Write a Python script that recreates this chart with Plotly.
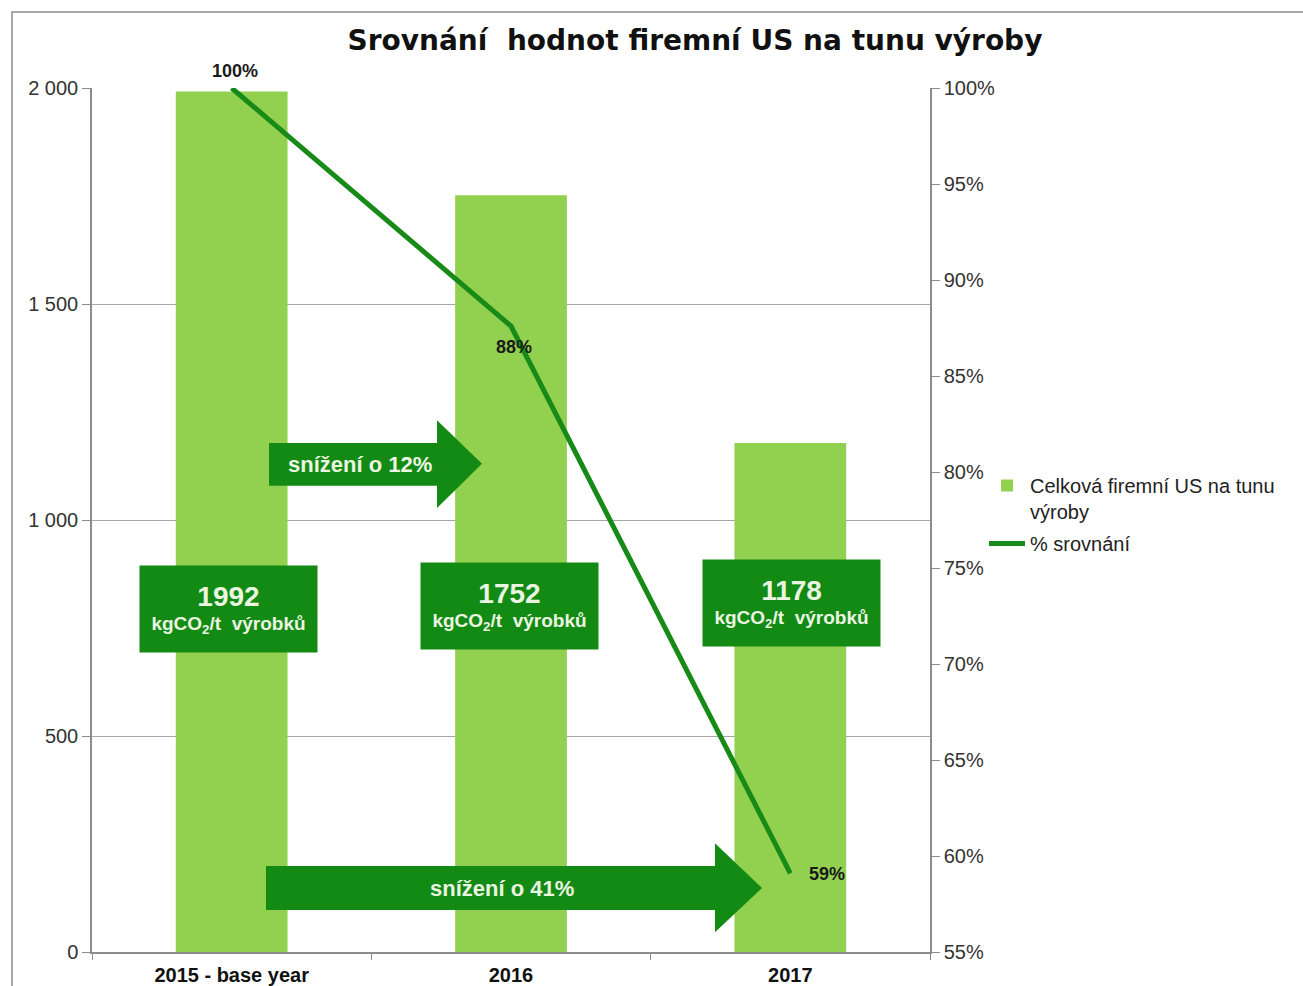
import plotly.graph_objects as go

categories = ["2015 - base year", "2016", "2017"]
intensity = [1992, 1752, 1178]          # kgCO2/t
percent = [1.00, 0.876, 0.591]          # % srovnání
bar_name = "Celková firemní US na tunu<br>výroby"
line_name = "% srovnání"
title_text = "Srovnání\u00a0 hodnot firemní US na tunu výroby"
unit_text = "kgCO<sub>2</sub>/t\u00a0 výrobků"
arrow_labels = ["snížení o 12%", "snížení o 41%"]
left_ticks = [0, 500, 1000, 1500, 2000]
left_tick_text = ["0", "500", "1 000", "1 500", "2 000"]

xpos = list(range(len(categories)))

FONT = "Liberation Sans, Arial, sans-serif"
TITLE_FONT = "DejaVu Sans, Liberation Sans, sans-serif"
BAR = "#92D050"
DARK = "#138a13"
LINE = "#178a17"
LIGHT_TXT = "#eaf5e2"
AXIS = "#8c8c8c"

fig = go.Figure()
fig.add_trace(go.Bar(
    x=xpos, y=intensity, name=bar_name, legendgroup="bars",
    marker=dict(color=BAR, line=dict(width=0)), width=0.4, hoverinfo="skip"))
fig.add_trace(go.Scatter(
    x=xpos, y=percent, name=line_name, legendgroup="line", yaxis="y2",
    mode="lines", line=dict(color=LINE, width=5), hoverinfo="skip"))

annotations = []
# percentage labels on the line
pct_shift = [(3, 17), (3, -21), (37, -1)]
for i, p, (dx, dy) in zip(xpos, percent, pct_shift):
    annotations.append(dict(
        x=i, y=p, xref="x", yref="y2", xshift=dx, yshift=dy, showarrow=False,
        text=f"<b>{p:.0%}</b>", font=dict(family=FONT, size=18, color="#1a1a1a")))

# value boxes
box_y = [794, 802, 808]
box_shift = [-3, -2, 1]
for i, v, by, sh in zip(xpos, intensity, box_y, box_shift):
    annotations.append(dict(
        x=i, y=by, xref="x", yref="y", xshift=sh, showarrow=False,
        text=f"<b><span style='font-size:28px'>{v}</span><br>{unit_text}</b>",
        font=dict(family=FONT, size=19, color=LIGHT_TXT),
        bgcolor=DARK, width=177, height=86, borderpad=0, align="center", valign="middle"))

def px2paper(px):
    return (px - 92) / 838

arrows = [
    # body left, head base, tip, body top, body bottom, head top, head bottom, tip y
    (269, 437, 482, 1178, 1079, 1231, 1028, 1130),
    (266, 715, 762, 199, 97, 252, 46, 148),
]
label_x = [360, 502]
shapes = []
for (l, hb, tip, bt, bb, ht, hbm, ty), lab, lx in zip(arrows, arrow_labels, label_x):
    L, HB, T = px2paper(l), px2paper(hb), px2paper(tip)
    path = (f"M {L},{bt} L {HB},{bt} L {HB},{ht} L {T},{ty} L {HB},{hbm} "
            f"L {HB},{bb} L {L},{bb} Z")
    shapes.append(dict(type="path", xref="paper", yref="y", path=path,
                       fillcolor=DARK, line=dict(width=0), layer="above"))
    annotations.append(dict(
        x=px2paper(lx), y=(bt + bb) / 2, xref="paper", yref="y", showarrow=False,
        xanchor="center", yanchor="middle",
        text=f"<b>{lab}</b>", font=dict(family=FONT, size=22, color=LIGHT_TXT)))

# outer chart frame
shapes.append(dict(type="rect", xref="paper", yref="paper",
                   x0=px2paper(12), x1=1.6, y0=-0.2, y1=(952 - 12) / 864,
                   line=dict(color="#a8a8a8", width=2), fillcolor="rgba(0,0,0,0)", layer="below"))

boundaries = [i - 0.5 for i in xpos] + [xpos[-1] + 0.5]

fig.update_layout(
    width=1303, height=986,
    margin=dict(l=92, r=373, t=88, b=34),
    paper_bgcolor="white", plot_bgcolor="white",
    title=dict(text=f"<b>{title_text}</b>", x=695 / 1303, xanchor="center",
               y=1 - 40 / 986, yanchor="middle",
               font=dict(family=TITLE_FONT, size=28, color="#111111")),
    font=dict(family=FONT, size=20, color="#333333"),
    xaxis=dict(type="linear", range=[-0.5, len(categories) - 0.5], automargin=False,
               tickmode="array", tickvals=xpos, ticktext=categories,
               showline=True, linecolor=AXIS, linewidth=1.5, ticks="", tickangle=0,
               ticklabelstandoff=4,
               minor=dict(tickmode="array", tickvals=boundaries, ticks="outside",
                          ticklen=6, tickcolor=AXIS, showgrid=False),
               tickfont=dict(family=FONT, size=20, color="#111111", weight="bold"),
               showgrid=False, zeroline=False, fixedrange=True),
    yaxis=dict(range=[0, 2000], tickmode="array", tickvals=left_ticks, ticktext=left_tick_text,
               automargin=False, showline=True, linecolor=AXIS,
               linewidth=1.5, ticks="outside", ticklen=8, tickcolor=AXIS,
               showgrid=True, gridcolor="#a6a6a6", gridwidth=1, zeroline=False,
               tickfont=dict(family=FONT, size=20, color="#333333")),
    yaxis2=dict(range=[0.55, 1.0], dtick=0.05, tickformat=".0%", overlaying="y", side="right",
                automargin=False, showline=True, linecolor=AXIS, linewidth=1.5,
                ticks="outside", ticklen=8, tickcolor=AXIS, showgrid=False, zeroline=False,
                tickfont=dict(family=FONT, size=20, color="#333333")),
    legend=dict(x=px2paper(984), y=(952 - 466) / 864, xanchor="left", yanchor="top",
                valign="top", font=dict(family=FONT, size=20, color="#222222"),
                itemwidth=36, tracegroupgap=3, bgcolor="rgba(0,0,0,0)"),
    shapes=shapes, annotations=annotations, showlegend=True,
)

fig.write_html("out.html", post_script="document.body.style.margin='0';",
               config={"displayModeBar": False})
